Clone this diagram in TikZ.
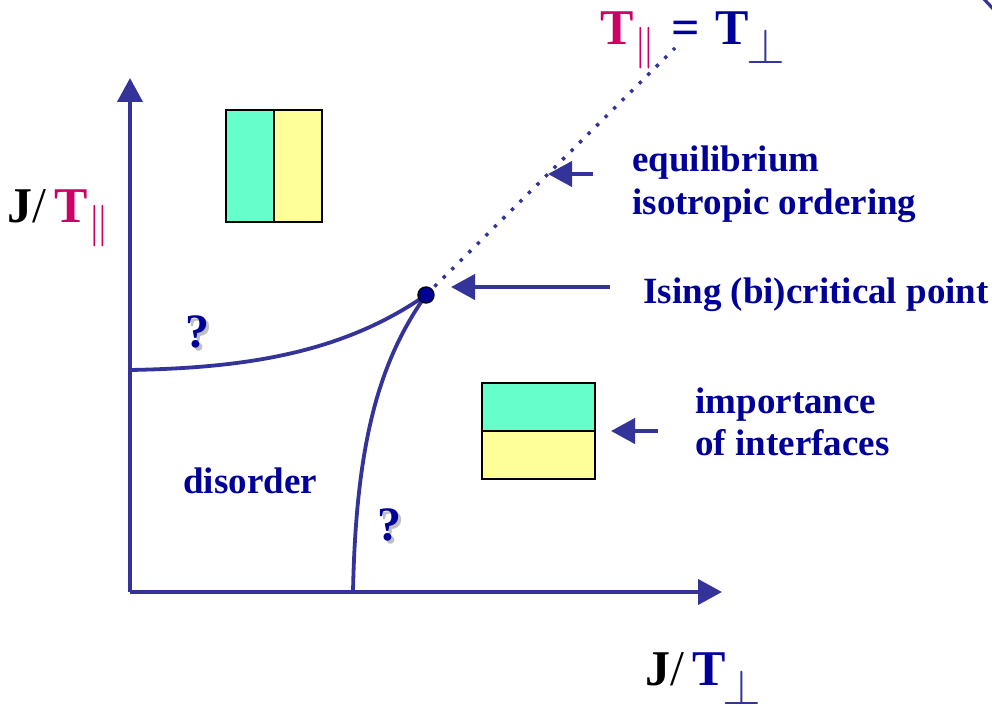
\documentclass[tikz,border=0pt]{standalone}
\usepackage{fontspec}
\setmainfont{Liberation Serif}
\usepackage{tikz}
\usetikzlibrary{arrows.meta}
\definecolor{axLine}{RGB}{51,51,153}
\definecolor{txtBlue}{RGB}{0,0,153}
\definecolor{tMag}{RGB}{204,0,102}
\definecolor{bGreen}{RGB}{102,255,204}
\definecolor{bYellow}{RGB}{255,255,153}
\newcommand{\subsz}{\fontsize{20}{20}\selectfont}
\newcommand{\Tpar}{{\color{tMag}\textbf{T}\kern0.5pt\raisebox{-7pt}{\subsz$\|$}}}
\newcommand{\Tperp}{{\color{txtBlue}\textbf{T}}\kern-1.5pt{\color{axLine}\raisebox{-9.5pt}{\fontsize{23}{23}\selectfont$\perp$}}}
\newcommand{\shq}{\rlap{\hspace{1.5pt}\raisebox{-1.5pt}{\color{black!25}?}}?}

\begin{document}
\begin{tikzpicture}[x=0.5pt,y=-0.5pt,>={Triangle[length=12pt,width=12.5pt]},
  axis/.style={->,draw=axLine,line width=2pt},
  ptr/.style ={->,draw=axLine,line width=2pt},
  phase/.style={draw=axLine,line width=1.9pt},
  cell/.style={draw=black,line width=0.7pt,inner sep=0pt},
  lbl/.style ={font=\fontsize{18.5}{21}\bfseries,text=txtBlue,inner sep=0pt,anchor=base west,align=left},
  big/.style ={font=\fontsize{25}{28}\selectfont,inner sep=0pt,anchor=base west},
  qm/.style  ={font=\fontsize{24}{26}\bfseries,text=txtBlue,inner sep=0pt,anchor=base west},
  dot/.style ={circle,draw=black,line width=0.7pt,fill=txtBlue,minimum size=8pt,inner sep=0pt}]
\useasboundingbox (0,0) rectangle (992,706);
% axes
\coordinate (o) at (130,592);
\coordinate (yTip) at (130,78);
\coordinate (xTip) at (722,592);
\draw[axis] (o) -- (yTip);
\draw[axis] (o) -- (xTip);
\node[big] (ylab) at (7,222) {\textbf{J}/\,\Tpar};
\node[big] (xlab) at (645,685) {\textbf{J}/\,\Tperp};
% phase boundaries
\coordinate (crit) at (426,295);
\coordinate (yCut) at (130,370);
\coordinate (xCut) at (353,592);
\coordinate (diagTop) at (675,48);
\draw[phase] (yCut) .. controls (240,368) and (340,355) .. (crit);
\draw[phase] (xCut) .. controls (356,440) and (380,360) .. (crit);
\draw[axLine,line width=1.7pt,dash pattern=on 1.7pt off 4.3pt] (crit) -- (diagTop);
\node[dot] (critDot) at (crit) {};
\node[big] (diag) at (600,45) {\Tpar\hspace{8pt}{\color{txtBlue}\textbf{=}}\hspace{8pt}\Tperp};
% stripes
\node[cell,fill=bGreen,minimum width=24pt,minimum height=56pt] (sL) at (250,166) {};
\node[cell,fill=bYellow,minimum width=24pt,minimum height=56pt] (sR) at (298,166) {};
\node[cell,fill=bGreen,minimum width=56.5pt,minimum height=24pt] (sT) at (538.5,407) {};
\node[cell,fill=bYellow,minimum width=56.5pt,minimum height=24pt] (sB) at (538.5,455) {};
% labels
\node[qm] (q1) at (185,348) {\shq};
\node[qm] (q2) at (377,540) {\shq};
\node[lbl] (dis) at (183,493) {disorder};
\node[lbl] (eq) at (632,214) {equilibrium\\isotropic ordering};
\node[lbl] (ising) at (643,303) {Ising (bi)critical point};
\node[lbl] (imp) at (695,455) {importance\\of interfaces};
% pointers
\coordinate (eqTail) at (593,174);
\coordinate (eqTip) at (548,174);
\coordinate (isTail) at (610,287);
\coordinate (isTip) at (451,287);
\coordinate (imTail) at (658,431);
\coordinate (imTip) at (611,431);
\draw[ptr] (eqTail) -- (eqTip);
\draw[ptr] (isTail) -- (isTip);
\draw[ptr] (imTail) -- (imTip);
\draw[axLine,line width=1.6pt] (983,-2) -- (996,12);
\end{tikzpicture}
\end{document}
